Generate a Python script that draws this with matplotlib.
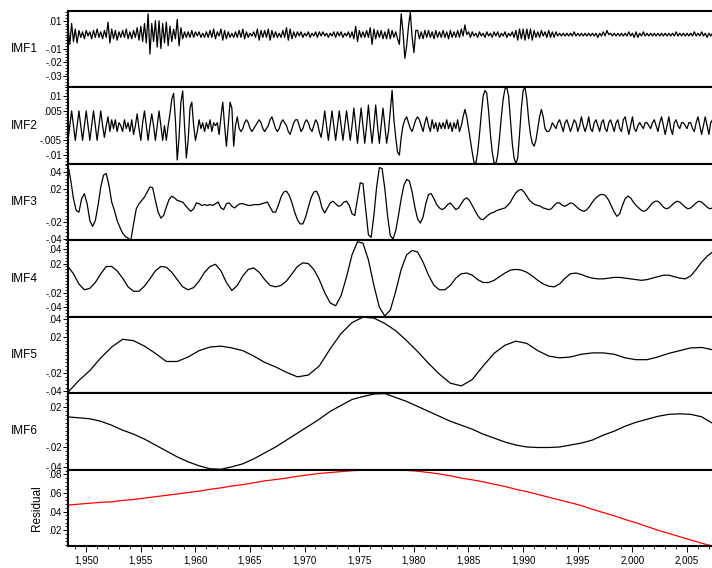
import numpy as np
import matplotlib.pyplot as plt
from matplotlib.ticker import FuncFormatter, MultipleLocator, AutoMinorLocator, FixedLocator

plt.rcParams['font.family'] = ['Liberation Sans', 'DejaVu Sans']

# first sample of every series and the right end of the time axis
t_start = 1948.35
t_end = 2007.3

# IMF1, units of 0.001, six samples per year
imf1 = [
    6, -7, 8, -5, 4, -6,   3, -2, 2, -3, 3, -1,   2, -3, 3, -2, 4, -2,
    2, -3, 3, -2, 9, -6,   4, -3, 3, -4, 2, -2,   3, -2, 4, -3, 2, -3,
    3, -2, 5, -4, 6, -5,   8, -6, 15, -14, 8, -5, 10, -9, 10, -10, 8, -6,
    9, -8, 6, -5, 4, -3,   11, -8, 5, -3, 2, -2,  2, -2, 3, -2, 2, -1,
    2, -2, 1, -2, 2, -2,   3, -2, 4, -3, 2, -1,   4, -4, 3, -3, 2, -2,
    1, -2, 2, -2, 3, -2,   4, -3, 2, -2, 1, -1,   2, -2, 4, -4, 3, -2,
    3, -2, 4, -4, 3, -2,   2, -2, 1, -2, 3, -2,   5, -4, 4, -3, 2, -2,
    2, -1, 2, -2, 1, -1,   2, -2, 1, -1, 2, -2,   2, -1, 2, -1, 1, -2,
    1, -1, 2, -2, 2, -1,   2, -2, 1, -1, 2, -2,   2, -3, 6, -5, 3, -2,
    2, -2, 3, -2, 5, -7,   4, -3, 3, -2, 3, -3,   2, -3, 4, -3, 3, -2,
    2, -3, -7, 15, 2, -17, -8, 6, 16, -2, -13, 3, 3, -3, 2, -3, 3, -2,
    3, -2, 2, -3, 3, -2,   2, -2, 3, -2, 2, -3,   3, -2, 2, -2, 3, -2,
    4, -1, 7, 0, 2, -2,    2, -1, 1, -2, 2, -1,   1, -2, 2, -1, 1, -2,
    2, -1, 2, -2, 1, -1,   2, -2, 1, -1, 2, -2,   3, -4, 4, -3, 4, -4,
    4, -3, 4, -4, 3, -2,   2, -2, 3, -1, 2, -2,   3, -2, 2, -2, 2, -1,
    1, -1, 1, -1, 1, -1,   1, -1, 2, -1, 1, -1,   1, -1, 1, -1, 1, -1,
    1, -1, 1, -2, 1, -1,   2, -1, 3, 0, 1, -1,    1, -1, 1, -1, 1, -1,
    1, -1, 2, -1, 1, -2,   2, -2, 1, -1, 2, -1,   1, -1, 1, -1, 1, -1,
    1, -1, 1, -1, 1, -1,   1, -1, 1, -1, 2, -1,   1, -1, 1, -1, 1, -1,
    1, -1, 2, -1, 1, -1,   2, -1, 1, -2, 1, -1,   1,
]

# IMF2, units of 0.001, six samples per year
imf2 = [
    -5, 0, 5, 0, -5, 0,   5, 0, -5, 0, 5, 0,    -5, 0, 5, 0, -5, 0,
    5, 0, -4, 0, 3, -2,   2, -1, 2, -2, 1, 0,   -2, 2, -1, 1, -2, 2,
    -3, 0, 4, -1, -5, 1,  5, 0, -5, 0, 4, 0,    -5, 0, 5, 0, -5, 0,
    -5, 0, 4, 9, 11, 2,   -11.7, -4, 8, 11.8, 0, -11, -5, 6, 8, 0, -5, -2,
    2, -1, 1, -2, 1, -1,  2, -2, 1, 0, 1, -3,   3, 8, 0, -7, 0, 8,
    6, -7, 0, 3, -1, -2,  -1, 1, 2, 1, -1, -2,  -1, 0, 1, 2, 1, -1,
    -2, -1, 0, 2, 3, 1,   -1, -2, -1, 1, 2, 1,  0, -2, -3, -1, 1, 2,
    2, 0, -2, -1, 1, 2,   1, -1, -2, 0, 2, 1,   -2, -4, 0, 5, 0, -5,
    0, 5, 0, -5, 0, 5,    0, -5, 0, 5, 0, -5,   0, 6, 0, -6, 0, 6,
    0, -6, 0, 7, 0, -6,   0, 7, 0, -6, 0, 6,    0, -6, -2, 5, 12, 2,
    -4, -9, -10, -4, 0, 2, 3, 1, -1, -2, 0, 2,  3, 2, 0, -2, 1, 3,
    0, -2, 2, -1, 1, -2,  1, -1, 1, -1, 2, -1,  1, -2, 1, -1, 2, -2,
    0, 3, 5.5, 3, -1, -5, -9, -12.5, -12.8, -9, -3, 4, 10, 12, 11, 5, -3, -9,
    -12.5, -13, -10, -4, 3, 9, 12.5, 13, 10, 2, -6, -11, -13, -11, -3, 6, 12, 13,
    9, 2, -3, -6, -7, -5, -1, 3, 5.5, 3, -1, -2, -2, -1, 1, 0, -1, 1,
    2, 0, -2, 1, 2, 0,    -2, 0, 2, 1, -2, 0,   3, 0, -2, 0, 3, -1,
    -2, 1, 2, 0, -2, 1,   2, -1, -2, 1, 2, 0,   -2, 1, 2, -1, -2, 2,
    3, 0, -3, 0, 3, -1,   -2, 0, 1, 0, -1, 1,   1, 0, -1, 1, 2, 0,
    -2, 1, 3, 0, -3, 0,   3, -1, -3, 1, 2, 0,   -1, 1, 1, 0, -1, 1,
    1, -1, -2, 1, 3, 0,   -3, 0, 3, 0, -3, 1,   2,
]

# IMF3, units of 0.001, four samples per year
imf3 = [
    48, 30, 8, -6,   -8, 8, 14, 2,    -18, -25, -18, 0,  22, 36, 38, 24,
    4, -6, -18, -26, -33, -37, -39, -42, -22, -4, 2, 6, 10, 16, 22, 21,
    6, -8, -15, -12, -2, 7, 11, 9,   6, 5, 4, 0,      -4, -7, -4, 3,
    2, 0, 1, 0,      1, 0, 2, 4,      -3, -5, 2, 3,    -1, -3, 0, 2,
    2, 1, 0, 0,      1, 1, 1, 2,      3, 4, -2, -8,    -8, 0, 10, 16,
    17, 12, 3, -8,   -17, -22, -22, -14, -2, 9, 16, 17, 10, -3, -9, -3,
    3, 5, 2, -1,     0, 4, 5, 0,      -10, -12, 8, 27, 26, -5, -35, -38,
    -12, 22, 45, 44, 20, -12, -36, -40, -30, -12, 8, 24, 31, 29, 16, -2,
    -16, -21, -14, 2, 13, 14, 8, 1,   -3, -5, -3, 1,   3, -1, -5, -3,
    2, 7, 9, 6,      0, -6, -12, -16, -17, -14, -11, -9, -8, -6, -5, -4,
    -3, 0, 4, 10,    15, 18, 19, 16,  11, 6, 3, 1,     0, -1, -3, -4,
    -5, -4, 0, 3,    3, 0, -1, 1,     3, 2, -1, -4,    -6, -7, -5, -1,
    4, 8, 11, 13,    13, 11, 6, -1,   -8, -13, -10, 0, 8, 11, 9, 4,
    0, -3, -6, -7,   -5, -1, 3, 5,    5, 2, -2, -4,    -3, 0, 3, 5,
    4, 1, -2, -4,    -3, 0, 3, 5,     4, 1, -2, -4,    -3,
]

# IMF4, two samples per year
imf4 = [
    0.016, 0.006, -0.008, -0.016, -0.014, -0.006, 0.006, 0.016, 0.016, 0.010,
    0.000, -0.012, -0.018, -0.018, -0.011, -0.001, 0.010, 0.016, 0.015, 0.008,
    -0.002, -0.012, -0.016, -0.013, -0.004, 0.008, 0.016, 0.019, 0.010, -0.006,
    -0.017, -0.010, 0.003, 0.012, 0.014, 0.008, -0.002, -0.010, -0.012, -0.010,
    -0.004, 0.006, 0.016, 0.021, 0.020, 0.012, -0.002, -0.020, -0.034, -0.038,
    -0.024, 0.002, 0.032, 0.050, 0.048, 0.025, -0.010, -0.040, -0.052, -0.044,
    -0.018, 0.012, 0.032, 0.038, 0.036, 0.022, 0.004, -0.010, -0.016, -0.016,
    -0.010, 0.000, 0.006, 0.007, 0.004, -0.002, -0.006, -0.006, -0.003, 0.002,
    0.007, 0.011, 0.012, 0.011, 0.008, 0.003, -0.003, -0.008, -0.011, -0.012,
    -0.008, 0.000, 0.006, 0.007, 0.005, 0.002, 0.000, -0.001, -0.001, 0.000,
    0.001, 0.001, 0.000, -0.001, -0.002, -0.003, -0.002, 0.000, 0.002, 0.004,
    0.004, 0.002, 0.000, -0.001, 0.003, 0.012, 0.022, 0.030, 0.036,
]

# IMF5, IMF6 and residual, one sample per year
imf5 = [
    -0.041, -0.028, -0.017, -0.003, 0.009, 0.0175, 0.016, 0.010, 0.002, -0.007,
    -0.007, -0.002, 0.005, 0.009, 0.010, 0.008, 0.005, -0.001, -0.008, -0.013,
    -0.019, -0.024, -0.022, -0.012, 0.007, 0.024, 0.036, 0.042, 0.041, 0.035,
    0.027, 0.016, 0.004, -0.009, -0.021, -0.031, -0.034, -0.027, -0.012, 0.002,
    0.011, 0.0155, 0.013, 0.005, -0.001, -0.003, -0.002, 0.001, 0.0025, 0.0025,
    0.001, -0.003, -0.005, -0.005, -0.002, 0.002, 0.005, 0.008, 0.0085, 0.006,
]
imf6 = [
    0.0104, 0.0095, 0.0085, 0.006, 0.002, -0.003, -0.007, -0.012, -0.018, -0.024,
    -0.030, -0.035, -0.039, -0.042, -0.0425, -0.040, -0.037, -0.032, -0.026, -0.020,
    -0.013, -0.006, 0.001, 0.008, 0.016, 0.022, 0.028, 0.031, 0.0335, 0.034,
    0.030, 0.026, 0.021, 0.016, 0.011, 0.006, 0.002, -0.002, -0.007, -0.011,
    -0.015, -0.018, -0.020, -0.0205, -0.0205, -0.020, -0.018, -0.016, -0.013, -0.008,
    -0.004, 0.001, 0.005, 0.008, 0.011, 0.013, 0.0135, 0.013, 0.0105, 0.004,
]
residual = [
    0.047, 0.048, 0.049, 0.050, 0.0505, 0.052, 0.053, 0.0545, 0.056, 0.0575,
    0.059, 0.0605, 0.062, 0.064, 0.0655, 0.0675, 0.069, 0.071, 0.073, 0.0745,
    0.076, 0.078, 0.0795, 0.081, 0.082, 0.083, 0.084, 0.0845, 0.0848, 0.085,
    0.0848, 0.0843, 0.0835, 0.082, 0.0805, 0.0785, 0.076, 0.0742, 0.072, 0.0695,
    0.067, 0.064, 0.0615, 0.0585, 0.0555, 0.0525, 0.0495, 0.0465, 0.0425, 0.039,
    0.0355, 0.0315, 0.028, 0.024, 0.020, 0.0165, 0.013, 0.0095, 0.006, 0.003,
]

names = ['IMF1', 'IMF2', 'IMF3', 'IMF4', 'IMF5', 'IMF6', 'Residual']
series = [np.array(imf1) / 1000, np.array(imf2) / 1000, np.array(imf3) / 1000,
          np.array(imf4), np.array(imf5), np.array(imf6), np.array(residual)]
steps = [1 / 6, 1 / 6, 0.25, 0.5, 1, 1, 1]
yticks = [[0.01, -0.01, -0.02, -0.03],
          [0.01, 0.005, -0.005, -0.01],
          [0.04, 0.02, -0.02, -0.04],
          [0.04, 0.02, -0.02, -0.04],
          [0.04, 0.02, -0.02, -0.04],
          [0.02, -0.02, -0.04],
          [0.08, 0.06, 0.04, 0.02]]
ylims = [(-0.038, 0.017), (-0.013, 0.013), (-0.0415, 0.0495), (-0.053, 0.052),
         (-0.042, 0.0425), (-0.0428, 0.0344), (0.003, 0.0852)]
colors = ['black'] * 6 + ['red']


def short_num(v, pos):
    s = f"{v:g}"
    return s.replace("0.", ".")


fig = plt.figure(figsize=(7.12, 5.68), dpi=100)
gs = fig.add_gridspec(7, 1, left=68 / 712, right=1.0, top=1 - 11 / 568,
                      bottom=1 - 546 / 568, hspace=0)

axes = []
for i in range(7):
    ax = fig.add_subplot(gs[i], sharex=axes[0] if axes else None)
    y = series[i]
    t = t_start + steps[i] * np.arange(len(y))
    ax.plot(t, y, color=colors[i], lw=0.9)
    ax.set_ylim(*ylims[i])
    ax.yaxis.set_major_locator(FixedLocator(yticks[i]))
    ax.yaxis.set_minor_locator(AutoMinorLocator(5))
    ax.yaxis.set_major_formatter(FuncFormatter(short_num))
    ax.tick_params(axis='y', which='major', length=3.5, width=0.7, labelsize=7, pad=1)
    ax.tick_params(axis='y', which='minor', length=2, width=0.6)
    ax.spines['right'].set_visible(False)
    for side in ['top', 'bottom', 'left']:
        ax.spines[side].set_linewidth(1.5)
    if names[i] == 'Residual':
        ax.set_ylabel(names[i], fontsize=8.5, labelpad=4)
    else:
        ax.set_ylabel(names[i], fontsize=8.5, rotation=0, ha='right', va='center', labelpad=0)
        ax.yaxis.set_label_coords(-0.047, 0.5)
    if i < 6:
        ax.tick_params(axis='x', which='both', bottom=False, labelbottom=False)
    axes.append(ax)

ax = axes[-1]
ax.set_xlim(t_start, t_end)
ax.xaxis.set_major_locator(MultipleLocator(5))
ax.xaxis.set_minor_locator(MultipleLocator(1))
ax.xaxis.set_major_formatter(FuncFormatter(lambda v, pos: f"{int(round(v)):,}"))
ax.tick_params(axis='x', which='major', length=4, width=0.7, labelsize=7, pad=3)
ax.tick_params(axis='x', which='minor', length=2.5, width=0.6)

fig.savefig('out.png', dpi=100)
